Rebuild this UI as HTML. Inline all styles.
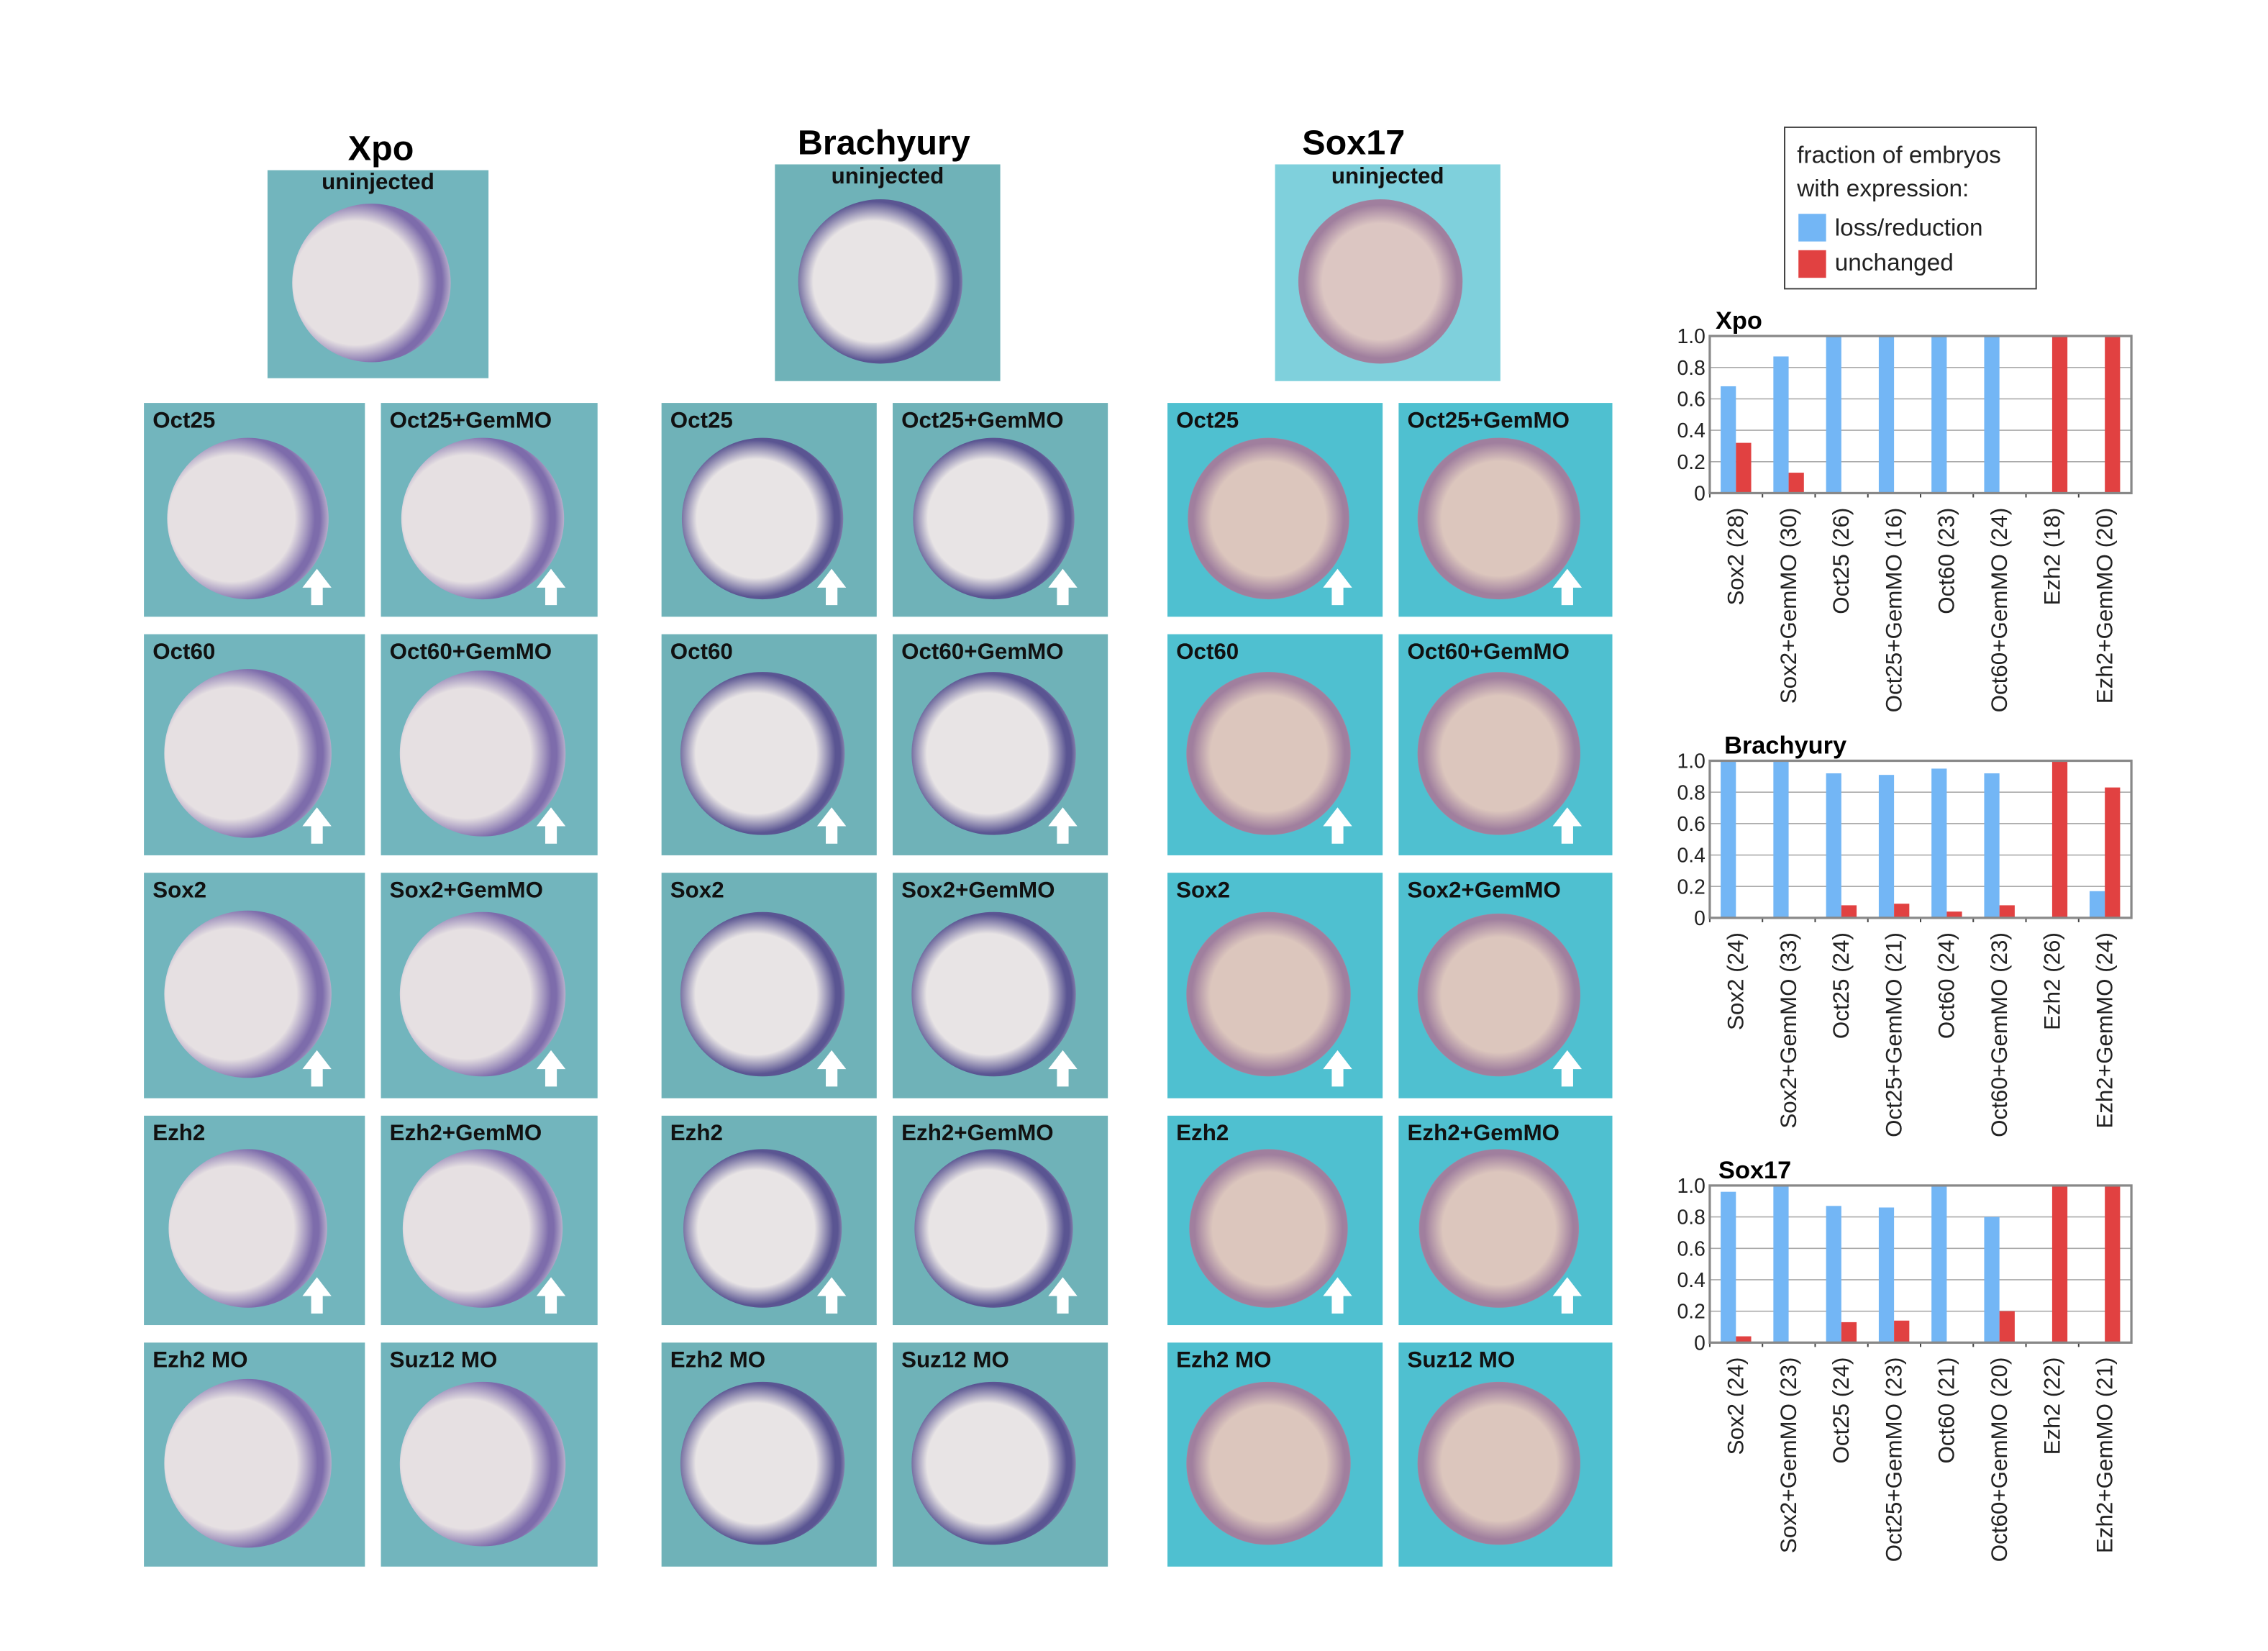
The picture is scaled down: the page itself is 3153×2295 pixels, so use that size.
<!DOCTYPE html>
<html><head><meta charset="utf-8">
<style>
html,body{margin:0;padding:0;background:#fff;}
body{width:3153px;height:2295px;overflow:hidden;position:relative;font-family:"Liberation Sans",Arial,sans-serif;}
#stage{position:absolute;left:0;top:0;width:1560px;height:1135px;transform:scale(2.0212,2.0220);transform-origin:0 0;}
.title{position:absolute;font-weight:bold;font-size:24px;color:#000;transform:translateX(-50%);white-space:nowrap;}
.panel{position:absolute;overflow:hidden;}
.lbl{position:absolute;left:6px;top:4px;font-weight:bold;font-size:15.5px;color:#111;white-space:nowrap;}
.emb{position:absolute;border-radius:50%;}
.legend{position:absolute;left:1227px;top:87px;width:172px;height:110px;border:1px solid #444;background:#fff;font-size:16.5px;color:#222;}
</style></head>
<body>
<div id="stage">
<div class="title" style="left:262px;top:89px">Xpo</div>
<div class="title" style="left:608px;top:85px">Brachyury</div>
<div class="title" style="left:931px;top:85px">Sox17</div>
<div id="panels"></div>
<div class="legend">
<div style="position:absolute;left:8px;top:8px;line-height:23px">fraction of embryos<br>with expression:</div>
<div style="position:absolute;left:9px;top:59px;width:19px;height:19px;background:#73b6f5"></div>
<div style="position:absolute;left:34px;top:60px">loss/reduction</div>
<div style="position:absolute;left:9px;top:84px;width:19px;height:19px;background:#e14141"></div>
<div style="position:absolute;left:34px;top:84px">unchanged</div>
</div>
<svg id="charts" width="1560" height="1135" style="position:absolute;left:0;top:0"></svg>
</div>
<script>
const categories = ["Sox2","Sox2+GemMO","Oct25","Oct25+GemMO","Oct60","Oct60+GemMO","Ezh2","Ezh2+GemMO"];
const xpoCounts = [28,30,26,16,23,24,18,20];
const xpoLoss = [0.68,0.87,1,1,1,1,0,0];
const xpoUnchanged = [0.32,0.13,0,0,0,0,1,1];
const braCounts = [24,33,24,21,24,23,26,24];
const braLoss = [1,1,0.92,0.91,0.95,0.92,0,0.17];
const braUnchanged = [0,0,0.08,0.09,0.04,0.08,1,0.83];
const soxCounts = [24,23,24,23,21,20,22,21];
const soxLoss = [0.96,1,0.87,0.86,1,0.8,0,0];
const soxUnchanged = [0.04,0,0.13,0.14,0,0.2,1,1];
const yTicks = [0,0.2,0.4,0.6,0.8,1.0];
const yTickLabels = ["0","0.2","0.4","0.6","0.8","1.0"];

const NS="http://www.w3.org/2000/svg";
const svg=document.getElementById('charts');
function mk(tag,attrs,parent){const e=document.createElementNS(NS,tag);for(const k in attrs)e.setAttribute(k,attrs[k]);(parent||svg).appendChild(e);return e;}

function drawChart(name,title,titleX,top,counts,loss,unch){
  const x0=1176,x1=1466,h=108,bottom=top+h;
  const g=mk('g',{});
  
  
  const yS=v=>bottom-v*h;
  const gw=(x1-x0)/categories.length;
  const xS=i=>x0+i*gw;
  const t=mk('text',{x:titleX,y:top-5,'font-size':17,'font-weight':'bold','font-family':'Liberation Sans, sans-serif'},g);
  t.textContent=title;
  
  
  yTicks.forEach((v,i)=>{
    if(v>0&&v<1){const l=mk('line',{x1:x0,x2:x1,y1:yS(v),y2:yS(v),stroke:'#aaa','stroke-width':0.8},g);
      
      }
    const tx=mk('text',{x:x0-3,y:yS(v)+5,'font-size':14,'text-anchor':'end','font-family':'Liberation Sans, sans-serif',fill:'#222'},g);
    tx.textContent=yTickLabels[i];
    
    
  });
  categories.forEach((c,i)=>{
    const bw=10.5,bx=xS(i)+7.5;
    const b=mk('rect',{x:bx,y:yS(loss[i]),width:bw,height:loss[i]*h,fill:'#73b6f5'},g);
    
    
    const r=mk('rect',{x:bx+bw,y:yS(unch[i]),width:bw,height:unch[i]*h,fill:'#e14141'},g);
    
    
    const cx=xS(i)+gw/2;
    const lab=mk('text',{x:0,y:0,transform:'translate('+(cx+5)+','+(bottom+10)+') rotate(-90)','font-size':15.5,'text-anchor':'end','font-family':'Liberation Sans Narrow, Liberation Sans, sans-serif',fill:'#222'},g);
    lab.textContent=c+' ('+counts[i]+')';
    
    
    const tk=mk('line',{x1:xS(i),x2:xS(i),y1:bottom,y2:bottom+3,stroke:'#444'},g);
    
    
  });
  const fr=mk('rect',{x:x0,y:top,width:x1-x0,height:h,fill:'none',stroke:'#888','stroke-width':1.6},g);
  
  
}
drawChart('xpo','Xpo',1180,231,xpoCounts,xpoLoss,xpoUnchanged);
drawChart('brachyury','Brachyury',1186,523,braCounts,braLoss,braUnchanged);
drawChart('sox17','Sox17',1182,815,soxCounts,soxLoss,soxUnchanged);

const P=document.getElementById('panels');
const cols=[[99,251],[262,411],[455,603],[614,762],[803,951],[962,1109]];
const rows=[[277,424],[436,588],[600,755],[767,911],[923,1077]];
const labels=[["Oct25","Oct25+GemMO"],["Oct60","Oct60+GemMO"],["Sox2","Sox2+GemMO"],["Ezh2","Ezh2+GemMO"],["Ezh2 MO","Suz12 MO"]];
const styles={
 xpo:{bg:'#72b5bd',inner:'#e6e0e2',ring:'#7d6cab',edge:'#e2dee2',c:'40% 50%'},
 bra:{bg:'#6fb2b8',inner:'#e8e4e5',ring:'#5a5592',edge:'#e2dfe3',c:'46% 50%'},
 sox:{bg:'#4fc0d0',inner:'#dcc6bd',ring:'#a07f9e',edge:'#eae2dc',c:'50% 50%'}
};
function addPanel(x,y,w,h,label,st,arrow,name,big){
  const d=document.createElement('div');
  d.className='panel';
  d.style.cssText='left:'+x+'px;top:'+y+'px;width:'+w+'px;height:'+h+'px;background:'+st.bg;
  
  
  const D=Math.min(w,h)*0.76;
  const e=document.createElement('div');
  e.className='emb';
  e.style.cssText='left:'+(w*0.47-D/2)+'px;top:'+(h*0.54-D/2)+'px;width:'+D+'px;height:'+D+'px;background:radial-gradient(circle at '+st.c+','+st.inner+' 0 50%,'+st.ring+' 66%,'+st.ring+' 70%,'+st.edge+' 82%,'+st.edge+' 100%)';
  
  
  d.appendChild(e);
  if(label){const l=document.createElement('div');l.className='lbl';l.textContent=label;
    if(big){l.style.left='50%';l.style.transform='translateX(-50%)';l.style.top='0px';}
    
    
    d.appendChild(l);}
  if(arrow){const a=document.createElement('div');
    a.style.cssText='position:absolute;left:'+(w*0.72)+'px;top:'+(h-33)+'px;width:20px;height:26px';
    a.innerHTML='<svg width="20" height="26"><polygon points="10,0 20,13 14,13 14,25 6,25 6,13 0,13" fill="#fff"/></svg>';
    
    
    d.appendChild(a);}
  P.appendChild(d);
}
const keys=['xpo','xpo','bra','bra','sox','sox'];
rows.forEach((r,ri)=>cols.forEach((c,ci)=>{
  const lab=labels[ri][ci%2];
  addPanel(c[0],r[0],c[1]-c[0],r[1]-r[0],lab,styles[keys[ci]],ri<4,'panel-'+keys[ci]+'-'+lab.toLowerCase().replace(/[ +]/g,'-'));
}));
addPanel(184,117,152,143,'uninjected',styles.xpo,false,'panel-xpo-uninjected',true);
addPanel(533,113,155,149,'uninjected',styles.bra,false,'panel-bra-uninjected',true);
addPanel(877,113,155,149,'uninjected',{bg:'#7fd0dc',inner:'#dcc6c2',ring:'#a07f9e',edge:'#eae2dc',c:'50% 50%'},false,'panel-sox-uninjected',true);
</script>
</body></html>
